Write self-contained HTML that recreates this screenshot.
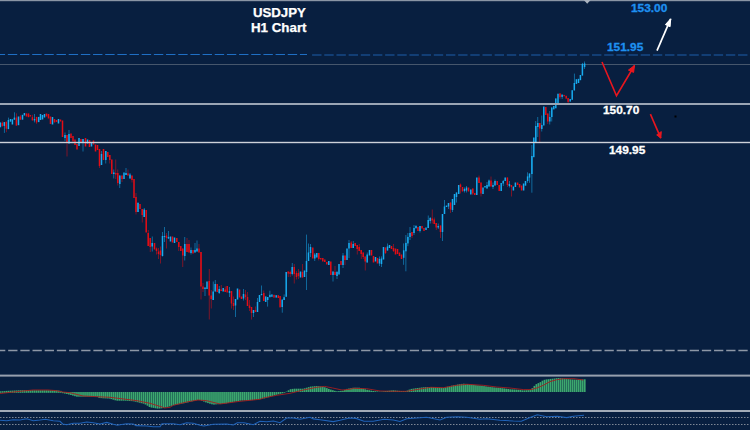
<!DOCTYPE html>
<html><head><meta charset="utf-8"><style>
html,body{margin:0;padding:0;}
body{width:750px;height:430px;overflow:hidden;background:#081f40;position:relative;font-family:"Liberation Sans",sans-serif;}
svg{position:absolute;left:0;top:0;}
.t{position:absolute;color:#fff;font-weight:bold;white-space:nowrap;line-height:1;}
</style></head><body>
<svg width="750" height="430" viewBox="0 0 750 430">
<rect x="0" y="0" width="750" height="1.2" fill="#8a95a5"/>
<path d="M583.8 0 L590.6 0 L587.2 3.8 Z" fill="#aab3bf"/>
<path d="M-4.32 54.5 H307" stroke="#1f6fc4" stroke-width="1" stroke-dasharray="9.4 2.77" fill="none"/>
<path d="M312.1 55 H750" stroke="#164a86" stroke-width="1.6" stroke-dasharray="9.4 2.77" fill="none"/>
<rect x="0" y="64" width="750" height="1" fill="#46566c"/>
<rect x="-0.35" y="122.4" width="1.5" height="4.9" fill="#18acf0"/>
<rect x="1.95" y="121.4" width="0.7" height="4.9" fill="#e60d14" opacity="0.75"/>
<rect x="1.55" y="122.8" width="1.5" height="3.5" fill="#e60d14"/>
<rect x="3.95" y="122.1" width="0.7" height="10.8" fill="#18acf0" opacity="0.75"/>
<rect x="3.55" y="122.1" width="1.5" height="3.8" fill="#18acf0"/>
<rect x="5.95" y="121.7" width="0.7" height="10.5" fill="#e60d14" opacity="0.75"/>
<rect x="5.55" y="121.7" width="1.5" height="7.0" fill="#e60d14"/>
<rect x="8.05" y="117.6" width="0.7" height="11.5" fill="#18acf0" opacity="0.75"/>
<rect x="7.65" y="120.0" width="1.5" height="9.1" fill="#18acf0"/>
<rect x="9.75" y="119.0" width="1.5" height="2.7" fill="#18acf0"/>
<rect x="11.65" y="119.3" width="1.5" height="5.2" fill="#18acf0"/>
<rect x="14.05" y="112.3" width="0.7" height="7.4" fill="#18acf0" opacity="0.75"/>
<rect x="13.65" y="117.6" width="1.5" height="2.1" fill="#18acf0"/>
<rect x="16.05" y="113.4" width="0.7" height="12.2" fill="#e60d14" opacity="0.75"/>
<rect x="15.65" y="117.6" width="1.5" height="8.0" fill="#e60d14"/>
<rect x="17.75" y="116.5" width="1.5" height="8.7" fill="#18acf0"/>
<rect x="20.05" y="115.1" width="0.7" height="4.6" fill="#e60d14" opacity="0.75"/>
<rect x="19.65" y="116.5" width="1.5" height="3.2" fill="#e60d14"/>
<rect x="21.75" y="114.8" width="1.5" height="4.9" fill="#18acf0"/>
<rect x="23.65" y="113.0" width="1.5" height="2.5" fill="#18acf0"/>
<rect x="25.75" y="113.4" width="1.5" height="3.1" fill="#e60d14"/>
<rect x="27.75" y="113.4" width="1.5" height="3.8" fill="#e60d14"/>
<rect x="29.65" y="115.1" width="1.5" height="1.4" fill="#e60d14"/>
<rect x="32.05" y="114.8" width="0.7" height="5.6" fill="#e60d14" opacity="0.75"/>
<rect x="31.65" y="117.2" width="1.5" height="3.2" fill="#e60d14"/>
<rect x="34.15" y="114.0" width="0.7" height="8.4" fill="#18acf0" opacity="0.75"/>
<rect x="33.75" y="119.0" width="1.5" height="1.4" fill="#18acf0"/>
<rect x="36.25" y="116.9" width="0.7" height="6.9" fill="#e60d14" opacity="0.75"/>
<rect x="35.85" y="116.9" width="1.5" height="5.5" fill="#e60d14"/>
<rect x="37.95" y="116.9" width="1.5" height="5.2" fill="#18acf0"/>
<rect x="39.75" y="114.0" width="1.5" height="6.0" fill="#18acf0"/>
<rect x="41.75" y="115.0" width="1.5" height="4.5" fill="#18acf0"/>
<rect x="43.75" y="114.0" width="1.5" height="3.5" fill="#18acf0"/>
<rect x="45.75" y="113.5" width="1.5" height="3.0" fill="#e60d14"/>
<rect x="47.75" y="114.0" width="1.5" height="4.5" fill="#e60d14"/>
<rect x="49.75" y="116.5" width="1.5" height="7.5" fill="#e60d14"/>
<rect x="51.75" y="117.0" width="1.5" height="7.5" fill="#18acf0"/>
<rect x="53.75" y="119.0" width="1.5" height="3.5" fill="#e60d14"/>
<rect x="55.75" y="120.0" width="1.5" height="2.0" fill="#e60d14"/>
<rect x="57.75" y="119.0" width="1.5" height="4.5" fill="#18acf0"/>
<rect x="59.75" y="119.5" width="1.5" height="2.0" fill="#e60d14"/>
<rect x="61.75" y="120.5" width="1.5" height="16.5" fill="#e60d14"/>
<rect x="64.65" y="132.5" width="0.7" height="8.5" fill="#18acf0" opacity="0.75"/>
<rect x="64.25" y="135.0" width="1.5" height="3.0" fill="#18acf0"/>
<rect x="66.65" y="135.0" width="0.7" height="21.5" fill="#e60d14" opacity="0.75"/>
<rect x="66.25" y="135.0" width="1.5" height="7.5" fill="#e60d14"/>
<rect x="68.65" y="130.0" width="0.7" height="13.5" fill="#18acf0" opacity="0.75"/>
<rect x="68.25" y="134.0" width="1.5" height="9.5" fill="#18acf0"/>
<rect x="70.25" y="133.5" width="1.5" height="4.5" fill="#e60d14"/>
<rect x="72.25" y="136.0" width="1.5" height="5.5" fill="#e60d14"/>
<rect x="74.25" y="139.5" width="1.5" height="5.5" fill="#e60d14"/>
<rect x="76.25" y="144.0" width="1.5" height="5.5" fill="#e60d14"/>
<rect x="78.25" y="138.0" width="1.5" height="8.0" fill="#18acf0"/>
<rect x="80.25" y="139.0" width="1.5" height="3.5" fill="#e60d14"/>
<rect x="82.65" y="139.0" width="0.7" height="12.5" fill="#18acf0" opacity="0.75"/>
<rect x="82.25" y="139.0" width="1.5" height="4.0" fill="#18acf0"/>
<rect x="84.75" y="138.0" width="1.5" height="8.5" fill="#e60d14"/>
<rect x="86.75" y="139.5" width="1.5" height="4.0" fill="#18acf0"/>
<rect x="88.75" y="140.0" width="1.5" height="7.0" fill="#e60d14"/>
<rect x="90.75" y="142.0" width="1.5" height="4.5" fill="#18acf0"/>
<rect x="92.75" y="140.5" width="1.5" height="4.0" fill="#e60d14"/>
<rect x="94.75" y="144.5" width="1.5" height="7.0" fill="#e60d14"/>
<rect x="96.75" y="145.0" width="1.5" height="5.0" fill="#e60d14"/>
<rect x="99.15" y="149.0" width="0.7" height="19.0" fill="#e60d14" opacity="0.75"/>
<rect x="98.75" y="149.0" width="1.5" height="17.0" fill="#e60d14"/>
<rect x="101.15" y="151.0" width="0.7" height="14.0" fill="#18acf0" opacity="0.75"/>
<rect x="100.75" y="154.0" width="1.5" height="11.0" fill="#18acf0"/>
<rect x="102.75" y="149.0" width="1.5" height="11.0" fill="#e60d14"/>
<rect x="105.45" y="151.0" width="0.7" height="12.5" fill="#18acf0" opacity="0.75"/>
<rect x="105.05" y="151.0" width="1.5" height="9.0" fill="#18acf0"/>
<rect x="107.05" y="152.0" width="1.5" height="5.0" fill="#e60d14"/>
<rect x="109.45" y="155.0" width="0.7" height="8.5" fill="#e60d14" opacity="0.75"/>
<rect x="109.05" y="155.0" width="1.5" height="5.0" fill="#e60d14"/>
<rect x="111.05" y="159.5" width="1.5" height="14.5" fill="#e60d14"/>
<rect x="113.45" y="169.5" width="0.7" height="9.0" fill="#18acf0" opacity="0.75"/>
<rect x="113.05" y="172.5" width="1.5" height="1.5" fill="#18acf0"/>
<rect x="115.45" y="159.5" width="0.7" height="19.5" fill="#e60d14" opacity="0.75"/>
<rect x="115.05" y="173.0" width="1.5" height="1.5" fill="#e60d14"/>
<rect x="117.45" y="169.5" width="0.7" height="16.0" fill="#e60d14" opacity="0.75"/>
<rect x="117.05" y="173.0" width="1.5" height="10.0" fill="#e60d14"/>
<rect x="119.45" y="175.5" width="0.7" height="12.5" fill="#18acf0" opacity="0.75"/>
<rect x="119.05" y="175.5" width="1.5" height="8.5" fill="#18acf0"/>
<rect x="121.65" y="175.5" width="0.7" height="6.5" fill="#e60d14" opacity="0.75"/>
<rect x="121.25" y="175.5" width="1.5" height="3.5" fill="#e60d14"/>
<rect x="123.25" y="172.5" width="1.5" height="6.5" fill="#18acf0"/>
<rect x="125.65" y="168.0" width="0.7" height="7.0" fill="#18acf0" opacity="0.75"/>
<rect x="125.25" y="173.0" width="1.5" height="2.0" fill="#18acf0"/>
<rect x="127.65" y="169.5" width="0.7" height="6.0" fill="#e60d14" opacity="0.75"/>
<rect x="127.25" y="173.5" width="1.5" height="2.0" fill="#e60d14"/>
<rect x="129.65" y="173.0" width="0.7" height="5.5" fill="#18acf0" opacity="0.75"/>
<rect x="129.25" y="174.5" width="1.5" height="4.0" fill="#18acf0"/>
<rect x="131.65" y="175.5" width="0.7" height="7.0" fill="#e60d14" opacity="0.75"/>
<rect x="131.25" y="175.5" width="1.5" height="4.5" fill="#e60d14"/>
<rect x="133.25" y="179.0" width="1.5" height="19.0" fill="#e60d14"/>
<rect x="135.65" y="193.0" width="0.7" height="21.5" fill="#e60d14" opacity="0.75"/>
<rect x="135.25" y="197.0" width="1.5" height="15.0" fill="#e60d14"/>
<rect x="137.65" y="202.0" width="0.7" height="10.0" fill="#18acf0" opacity="0.75"/>
<rect x="137.25" y="203.0" width="1.5" height="9.0" fill="#18acf0"/>
<rect x="139.25" y="204.0" width="1.5" height="5.0" fill="#e60d14"/>
<rect x="141.85" y="209.0" width="0.7" height="13.5" fill="#e60d14" opacity="0.75"/>
<rect x="141.45" y="209.0" width="1.5" height="6.0" fill="#e60d14"/>
<rect x="143.85" y="208.0" width="0.7" height="9.0" fill="#18acf0" opacity="0.75"/>
<rect x="143.45" y="209.5" width="1.5" height="7.5" fill="#18acf0"/>
<rect x="145.45" y="210.0" width="1.5" height="22.5" fill="#e60d14"/>
<rect x="147.85" y="230.0" width="0.7" height="16.0" fill="#e60d14" opacity="0.75"/>
<rect x="147.45" y="233.0" width="1.5" height="13.0" fill="#e60d14"/>
<rect x="149.85" y="238.0" width="0.7" height="14.0" fill="#e60d14" opacity="0.75"/>
<rect x="149.45" y="238.0" width="1.5" height="9.0" fill="#e60d14"/>
<rect x="151.85" y="236.5" width="0.7" height="15.0" fill="#18acf0" opacity="0.75"/>
<rect x="151.45" y="243.0" width="1.5" height="3.5" fill="#18acf0"/>
<rect x="153.75" y="243.0" width="1.5" height="6.5" fill="#e60d14"/>
<rect x="156.15" y="247.5" width="0.7" height="7.0" fill="#e60d14" opacity="0.75"/>
<rect x="155.75" y="248.5" width="1.5" height="2.5" fill="#e60d14"/>
<rect x="158.15" y="248.0" width="0.7" height="11.0" fill="#e60d14" opacity="0.75"/>
<rect x="157.75" y="251.5" width="1.5" height="2.5" fill="#e60d14"/>
<rect x="160.15" y="246.5" width="0.7" height="17.0" fill="#e60d14" opacity="0.75"/>
<rect x="159.75" y="250.5" width="1.5" height="4.5" fill="#e60d14"/>
<rect x="162.15" y="232.0" width="0.7" height="24.5" fill="#18acf0" opacity="0.75"/>
<rect x="161.75" y="236.0" width="1.5" height="20.0" fill="#18acf0"/>
<rect x="164.15" y="227.0" width="0.7" height="15.0" fill="#18acf0" opacity="0.75"/>
<rect x="163.75" y="236.0" width="1.5" height="1.0" fill="#18acf0"/>
<rect x="166.15" y="233.0" width="0.7" height="15.5" fill="#e60d14" opacity="0.75"/>
<rect x="165.75" y="235.5" width="1.5" height="2.5" fill="#e60d14"/>
<rect x="168.15" y="231.0" width="0.7" height="8.0" fill="#18acf0" opacity="0.75"/>
<rect x="167.75" y="237.0" width="1.5" height="1.5" fill="#18acf0"/>
<rect x="169.75" y="236.5" width="1.5" height="5.0" fill="#18acf0"/>
<rect x="171.75" y="236.5" width="1.5" height="6.0" fill="#e60d14"/>
<rect x="173.75" y="237.5" width="1.5" height="5.5" fill="#18acf0"/>
<rect x="176.05" y="238.0" width="1.5" height="4.0" fill="#e60d14"/>
<rect x="178.45" y="242.0" width="0.7" height="9.0" fill="#e60d14" opacity="0.75"/>
<rect x="178.05" y="242.0" width="1.5" height="5.0" fill="#e60d14"/>
<rect x="180.05" y="246.0" width="1.5" height="5.0" fill="#e60d14"/>
<rect x="182.45" y="248.5" width="0.7" height="18.5" fill="#e60d14" opacity="0.75"/>
<rect x="182.05" y="248.5" width="1.5" height="7.0" fill="#e60d14"/>
<rect x="184.45" y="237.0" width="0.7" height="23.5" fill="#18acf0" opacity="0.75"/>
<rect x="184.05" y="244.0" width="1.5" height="12.0" fill="#18acf0"/>
<rect x="186.65" y="238.0" width="0.7" height="14.0" fill="#e60d14" opacity="0.75"/>
<rect x="186.25" y="244.0" width="1.5" height="8.0" fill="#e60d14"/>
<rect x="188.65" y="240.0" width="0.7" height="12.5" fill="#e60d14" opacity="0.75"/>
<rect x="188.25" y="244.0" width="1.5" height="8.5" fill="#e60d14"/>
<rect x="190.65" y="247.5" width="0.7" height="7.0" fill="#18acf0" opacity="0.75"/>
<rect x="190.25" y="250.0" width="1.5" height="3.0" fill="#18acf0"/>
<rect x="192.25" y="250.0" width="1.5" height="3.5" fill="#e60d14"/>
<rect x="194.65" y="243.0" width="0.7" height="9.5" fill="#18acf0" opacity="0.75"/>
<rect x="194.25" y="250.0" width="1.5" height="2.5" fill="#18acf0"/>
<rect x="196.65" y="240.5" width="0.7" height="11.0" fill="#18acf0" opacity="0.75"/>
<rect x="196.25" y="248.5" width="1.5" height="3.0" fill="#18acf0"/>
<rect x="198.65" y="244.0" width="0.7" height="8.5" fill="#e60d14" opacity="0.75"/>
<rect x="198.25" y="248.5" width="1.5" height="4.0" fill="#e60d14"/>
<rect x="200.65" y="252.0" width="0.7" height="47.5" fill="#e60d14" opacity="0.75"/>
<rect x="200.25" y="252.0" width="1.5" height="34.5" fill="#e60d14"/>
<rect x="202.65" y="283.0" width="0.7" height="9.0" fill="#e60d14" opacity="0.75"/>
<rect x="202.25" y="286.5" width="1.5" height="2.5" fill="#e60d14"/>
<rect x="204.65" y="287.5" width="0.7" height="8.5" fill="#18acf0" opacity="0.75"/>
<rect x="204.25" y="287.5" width="1.5" height="1.5" fill="#18acf0"/>
<rect x="206.25" y="281.5" width="1.5" height="7.5" fill="#18acf0"/>
<rect x="208.85" y="269.0" width="0.7" height="50.5" fill="#e60d14" opacity="0.75"/>
<rect x="208.45" y="281.0" width="1.5" height="14.5" fill="#e60d14"/>
<rect x="210.85" y="290.0" width="0.7" height="18.5" fill="#e60d14" opacity="0.75"/>
<rect x="210.45" y="295.5" width="1.5" height="3.5" fill="#e60d14"/>
<rect x="212.85" y="281.5" width="0.7" height="18.5" fill="#18acf0" opacity="0.75"/>
<rect x="212.45" y="291.5" width="1.5" height="8.5" fill="#18acf0"/>
<rect x="214.85" y="280.0" width="0.7" height="11.5" fill="#18acf0" opacity="0.75"/>
<rect x="214.45" y="284.0" width="1.5" height="7.5" fill="#18acf0"/>
<rect x="216.45" y="284.0" width="1.5" height="8.0" fill="#e60d14"/>
<rect x="218.85" y="286.0" width="0.7" height="8.0" fill="#18acf0" opacity="0.75"/>
<rect x="218.45" y="289.0" width="1.5" height="4.0" fill="#18acf0"/>
<rect x="220.85" y="285.0" width="0.7" height="6.0" fill="#e60d14" opacity="0.75"/>
<rect x="220.45" y="289.5" width="1.5" height="1.5" fill="#e60d14"/>
<rect x="222.45" y="288.0" width="1.5" height="3.5" fill="#18acf0"/>
<rect x="224.85" y="286.5" width="0.7" height="5.5" fill="#e60d14" opacity="0.75"/>
<rect x="224.45" y="289.5" width="1.5" height="2.5" fill="#e60d14"/>
<rect x="226.45" y="286.0" width="1.5" height="6.5" fill="#e60d14"/>
<rect x="229.15" y="287.0" width="0.7" height="10.0" fill="#18acf0" opacity="0.75"/>
<rect x="228.75" y="291.0" width="1.5" height="2.0" fill="#18acf0"/>
<rect x="231.15" y="291.0" width="0.7" height="17.5" fill="#e60d14" opacity="0.75"/>
<rect x="230.75" y="291.0" width="1.5" height="12.5" fill="#e60d14"/>
<rect x="233.15" y="296.5" width="0.7" height="13.5" fill="#e60d14" opacity="0.75"/>
<rect x="232.75" y="303.0" width="1.5" height="3.0" fill="#e60d14"/>
<rect x="235.15" y="299.0" width="0.7" height="18.0" fill="#18acf0" opacity="0.75"/>
<rect x="234.75" y="299.0" width="1.5" height="6.5" fill="#18acf0"/>
<rect x="236.75" y="288.5" width="1.5" height="11.0" fill="#18acf0"/>
<rect x="238.75" y="289.5" width="1.5" height="8.0" fill="#e60d14"/>
<rect x="240.75" y="296.5" width="1.5" height="2.5" fill="#e60d14"/>
<rect x="243.15" y="289.0" width="0.7" height="11.5" fill="#18acf0" opacity="0.75"/>
<rect x="242.75" y="294.0" width="1.5" height="4.5" fill="#18acf0"/>
<rect x="245.15" y="290.0" width="0.7" height="10.0" fill="#e60d14" opacity="0.75"/>
<rect x="244.75" y="294.5" width="1.5" height="2.5" fill="#e60d14"/>
<rect x="247.15" y="292.0" width="0.7" height="14.0" fill="#e60d14" opacity="0.75"/>
<rect x="246.75" y="297.0" width="1.5" height="9.0" fill="#e60d14"/>
<rect x="249.15" y="300.0" width="0.7" height="11.0" fill="#e60d14" opacity="0.75"/>
<rect x="248.75" y="305.5" width="1.5" height="2.5" fill="#e60d14"/>
<rect x="251.15" y="307.0" width="0.7" height="12.5" fill="#e60d14" opacity="0.75"/>
<rect x="250.75" y="307.0" width="1.5" height="6.0" fill="#e60d14"/>
<rect x="253.15" y="310.0" width="0.7" height="7.0" fill="#18acf0" opacity="0.75"/>
<rect x="252.75" y="310.0" width="1.5" height="3.0" fill="#18acf0"/>
<rect x="255.15" y="306.5" width="0.7" height="5.5" fill="#e60d14" opacity="0.75"/>
<rect x="254.75" y="310.0" width="1.5" height="2.0" fill="#e60d14"/>
<rect x="257.15" y="298.0" width="0.7" height="14.0" fill="#18acf0" opacity="0.75"/>
<rect x="256.75" y="302.0" width="1.5" height="10.0" fill="#18acf0"/>
<rect x="258.75" y="295.0" width="1.5" height="7.0" fill="#18acf0"/>
<rect x="261.15" y="285.5" width="0.7" height="10.0" fill="#18acf0" opacity="0.75"/>
<rect x="260.75" y="294.0" width="1.5" height="1.0" fill="#18acf0"/>
<rect x="263.45" y="290.5" width="0.7" height="10.5" fill="#e60d14" opacity="0.75"/>
<rect x="263.05" y="293.0" width="1.5" height="8.0" fill="#e60d14"/>
<rect x="264.95" y="296.4" width="1.5" height="5.6" fill="#18acf0"/>
<rect x="267.35" y="297.0" width="0.7" height="9.6" fill="#18acf0" opacity="0.75"/>
<rect x="266.95" y="297.0" width="1.5" height="3.0" fill="#18acf0"/>
<rect x="269.55" y="290.7" width="0.7" height="6.5" fill="#18acf0" opacity="0.75"/>
<rect x="269.15" y="294.8" width="1.5" height="2.4" fill="#18acf0"/>
<rect x="271.15" y="294.4" width="1.5" height="2.4" fill="#18acf0"/>
<rect x="273.25" y="294.8" width="1.5" height="2.8" fill="#e60d14"/>
<rect x="275.45" y="295.2" width="1.5" height="2.4" fill="#18acf0"/>
<rect x="277.55" y="295.2" width="1.5" height="2.8" fill="#e60d14"/>
<rect x="279.35" y="296.0" width="1.5" height="11.4" fill="#e60d14"/>
<rect x="281.85" y="299.6" width="0.7" height="13.1" fill="#18acf0" opacity="0.75"/>
<rect x="281.45" y="299.6" width="1.5" height="7.4" fill="#18acf0"/>
<rect x="283.75" y="294.4" width="0.7" height="5.6" fill="#18acf0" opacity="0.75"/>
<rect x="283.35" y="297.2" width="1.5" height="2.8" fill="#18acf0"/>
<rect x="285.45" y="272.0" width="1.5" height="24.8" fill="#18acf0"/>
<rect x="287.85" y="271.5" width="0.7" height="5.5" fill="#e60d14" opacity="0.75"/>
<rect x="287.45" y="271.5" width="1.5" height="2.0" fill="#e60d14"/>
<rect x="289.85" y="270.5" width="0.7" height="6.5" fill="#e60d14" opacity="0.75"/>
<rect x="289.45" y="272.0" width="1.5" height="2.0" fill="#e60d14"/>
<rect x="291.85" y="263.0" width="0.7" height="12.5" fill="#18acf0" opacity="0.75"/>
<rect x="291.45" y="267.0" width="1.5" height="7.0" fill="#18acf0"/>
<rect x="293.85" y="264.0" width="0.7" height="19.5" fill="#e60d14" opacity="0.75"/>
<rect x="293.45" y="267.0" width="1.5" height="7.0" fill="#e60d14"/>
<rect x="296.15" y="271.0" width="0.7" height="8.5" fill="#e60d14" opacity="0.75"/>
<rect x="295.75" y="273.0" width="1.5" height="4.0" fill="#e60d14"/>
<rect x="298.15" y="269.0" width="0.7" height="10.0" fill="#e60d14" opacity="0.75"/>
<rect x="297.75" y="273.0" width="1.5" height="3.0" fill="#e60d14"/>
<rect x="299.75" y="271.5" width="1.5" height="6.0" fill="#18acf0"/>
<rect x="302.15" y="264.0" width="0.7" height="13.5" fill="#e60d14" opacity="0.75"/>
<rect x="301.75" y="272.0" width="1.5" height="5.5" fill="#e60d14"/>
<rect x="303.75" y="270.5" width="1.5" height="6.5" fill="#18acf0"/>
<rect x="306.15" y="234.6" width="0.7" height="55.4" fill="#18acf0" opacity="0.75"/>
<rect x="305.75" y="261.0" width="1.5" height="11.0" fill="#18acf0"/>
<rect x="308.15" y="243.5" width="0.7" height="17.5" fill="#18acf0" opacity="0.75"/>
<rect x="307.75" y="252.5" width="1.5" height="8.5" fill="#18acf0"/>
<rect x="310.15" y="244.0" width="0.7" height="13.0" fill="#18acf0" opacity="0.75"/>
<rect x="309.75" y="247.0" width="1.5" height="6.0" fill="#18acf0"/>
<rect x="312.05" y="247.5" width="1.5" height="11.0" fill="#e60d14"/>
<rect x="314.45" y="253.0" width="0.7" height="8.0" fill="#18acf0" opacity="0.75"/>
<rect x="314.05" y="254.5" width="1.5" height="4.0" fill="#18acf0"/>
<rect x="316.05" y="253.0" width="1.5" height="4.5" fill="#18acf0"/>
<rect x="318.45" y="253.0" width="0.7" height="7.5" fill="#e60d14" opacity="0.75"/>
<rect x="318.05" y="253.0" width="1.5" height="6.0" fill="#e60d14"/>
<rect x="320.05" y="258.0" width="1.5" height="1.5" fill="#e60d14"/>
<rect x="322.05" y="258.0" width="1.5" height="3.5" fill="#e60d14"/>
<rect x="324.05" y="259.5" width="1.5" height="2.5" fill="#e60d14"/>
<rect x="326.05" y="262.0" width="1.5" height="2.5" fill="#e60d14"/>
<rect x="328.05" y="261.0" width="1.5" height="4.0" fill="#18acf0"/>
<rect x="330.05" y="261.5" width="1.5" height="13.5" fill="#e60d14"/>
<rect x="332.65" y="271.5" width="0.7" height="10.0" fill="#18acf0" opacity="0.75"/>
<rect x="332.25" y="271.5" width="1.5" height="3.5" fill="#18acf0"/>
<rect x="334.65" y="266.0" width="0.7" height="9.0" fill="#e60d14" opacity="0.75"/>
<rect x="334.25" y="272.0" width="1.5" height="3.0" fill="#e60d14"/>
<rect x="336.65" y="271.0" width="0.7" height="8.0" fill="#18acf0" opacity="0.75"/>
<rect x="336.25" y="272.0" width="1.5" height="4.0" fill="#18acf0"/>
<rect x="338.25" y="264.0" width="1.5" height="10.5" fill="#18acf0"/>
<rect x="340.25" y="261.0" width="1.5" height="4.0" fill="#e60d14"/>
<rect x="342.65" y="253.0" width="0.7" height="15.0" fill="#18acf0" opacity="0.75"/>
<rect x="342.25" y="255.5" width="1.5" height="9.5" fill="#18acf0"/>
<rect x="344.65" y="255.5" width="0.7" height="9.5" fill="#e60d14" opacity="0.75"/>
<rect x="344.25" y="255.5" width="1.5" height="4.5" fill="#e60d14"/>
<rect x="346.25" y="248.5" width="1.5" height="11.5" fill="#18acf0"/>
<rect x="348.65" y="240.0" width="0.7" height="18.0" fill="#18acf0" opacity="0.75"/>
<rect x="348.25" y="243.0" width="1.5" height="5.5" fill="#18acf0"/>
<rect x="350.85" y="241.0" width="0.7" height="7.0" fill="#e60d14" opacity="0.75"/>
<rect x="350.45" y="242.5" width="1.5" height="5.5" fill="#e60d14"/>
<rect x="352.85" y="241.0" width="0.7" height="7.0" fill="#18acf0" opacity="0.75"/>
<rect x="352.45" y="244.0" width="1.5" height="4.0" fill="#18acf0"/>
<rect x="354.45" y="243.0" width="1.5" height="3.0" fill="#e60d14"/>
<rect x="356.85" y="245.0" width="0.7" height="9.5" fill="#e60d14" opacity="0.75"/>
<rect x="356.45" y="245.0" width="1.5" height="4.0" fill="#e60d14"/>
<rect x="358.85" y="244.0" width="0.7" height="7.0" fill="#e60d14" opacity="0.75"/>
<rect x="358.45" y="247.0" width="1.5" height="4.0" fill="#e60d14"/>
<rect x="360.85" y="250.0" width="0.7" height="9.0" fill="#e60d14" opacity="0.75"/>
<rect x="360.45" y="250.0" width="1.5" height="4.0" fill="#e60d14"/>
<rect x="362.85" y="252.5" width="0.7" height="6.5" fill="#e60d14" opacity="0.75"/>
<rect x="362.45" y="252.5" width="1.5" height="4.5" fill="#e60d14"/>
<rect x="364.85" y="256.5" width="0.7" height="14.0" fill="#e60d14" opacity="0.75"/>
<rect x="364.45" y="256.5" width="1.5" height="5.0" fill="#e60d14"/>
<rect x="366.85" y="252.5" width="0.7" height="10.0" fill="#18acf0" opacity="0.75"/>
<rect x="366.45" y="254.5" width="1.5" height="8.0" fill="#18acf0"/>
<rect x="368.75" y="250.0" width="1.5" height="5.5" fill="#18acf0"/>
<rect x="370.75" y="250.0" width="1.5" height="5.5" fill="#e60d14"/>
<rect x="372.75" y="256.0" width="1.5" height="6.5" fill="#e60d14"/>
<rect x="374.75" y="257.0" width="1.5" height="4.5" fill="#18acf0"/>
<rect x="376.75" y="258.0" width="1.5" height="5.5" fill="#e60d14"/>
<rect x="379.15" y="256.5" width="0.7" height="9.5" fill="#18acf0" opacity="0.75"/>
<rect x="378.75" y="259.0" width="1.5" height="4.5" fill="#18acf0"/>
<rect x="381.15" y="256.4" width="0.7" height="10.6" fill="#18acf0" opacity="0.75"/>
<rect x="380.75" y="258.5" width="1.5" height="5.5" fill="#18acf0"/>
<rect x="382.75" y="247.0" width="1.5" height="12.5" fill="#18acf0"/>
<rect x="385.15" y="247.5" width="0.7" height="6.5" fill="#e60d14" opacity="0.75"/>
<rect x="384.75" y="247.5" width="1.5" height="5.5" fill="#e60d14"/>
<rect x="387.15" y="243.5" width="0.7" height="7.0" fill="#18acf0" opacity="0.75"/>
<rect x="386.75" y="246.5" width="1.5" height="4.0" fill="#18acf0"/>
<rect x="388.75" y="245.0" width="1.5" height="3.0" fill="#18acf0"/>
<rect x="390.75" y="246.0" width="1.5" height="3.0" fill="#e60d14"/>
<rect x="393.15" y="244.0" width="0.7" height="8.0" fill="#e60d14" opacity="0.75"/>
<rect x="392.75" y="248.0" width="1.5" height="3.0" fill="#e60d14"/>
<rect x="394.75" y="248.5" width="1.5" height="6.0" fill="#e60d14"/>
<rect x="396.75" y="249.0" width="1.5" height="5.0" fill="#e60d14"/>
<rect x="398.75" y="252.5" width="1.5" height="3.5" fill="#e60d14"/>
<rect x="400.75" y="254.5" width="1.5" height="4.5" fill="#e60d14"/>
<rect x="403.35" y="243.4" width="0.7" height="21.4" fill="#18acf0" opacity="0.75"/>
<rect x="402.95" y="250.3" width="1.5" height="7.5" fill="#18acf0"/>
<rect x="405.55" y="235.0" width="0.7" height="36.3" fill="#18acf0" opacity="0.75"/>
<rect x="405.15" y="242.9" width="1.5" height="8.4" fill="#18acf0"/>
<rect x="407.55" y="233.0" width="0.7" height="13.2" fill="#18acf0" opacity="0.75"/>
<rect x="407.15" y="236.9" width="1.5" height="6.5" fill="#18acf0"/>
<rect x="409.65" y="227.0" width="0.7" height="13.0" fill="#18acf0" opacity="0.75"/>
<rect x="409.25" y="233.0" width="1.5" height="4.0" fill="#18acf0"/>
<rect x="411.65" y="232.0" width="0.7" height="6.0" fill="#e60d14" opacity="0.75"/>
<rect x="411.25" y="232.0" width="1.5" height="4.0" fill="#e60d14"/>
<rect x="413.65" y="225.0" width="0.7" height="10.0" fill="#18acf0" opacity="0.75"/>
<rect x="413.25" y="228.0" width="1.5" height="5.0" fill="#18acf0"/>
<rect x="415.65" y="225.0" width="0.7" height="4.0" fill="#18acf0" opacity="0.75"/>
<rect x="415.25" y="226.0" width="1.5" height="2.0" fill="#18acf0"/>
<rect x="417.25" y="227.0" width="1.5" height="4.0" fill="#e60d14"/>
<rect x="419.65" y="226.0" width="0.7" height="6.5" fill="#18acf0" opacity="0.75"/>
<rect x="419.25" y="226.0" width="1.5" height="5.0" fill="#18acf0"/>
<rect x="421.25" y="226.0" width="1.5" height="2.5" fill="#e60d14"/>
<rect x="423.25" y="228.0" width="1.5" height="3.0" fill="#e60d14"/>
<rect x="425.25" y="227.5" width="1.5" height="2.5" fill="#18acf0"/>
<rect x="427.85" y="215.5" width="0.7" height="12.5" fill="#18acf0" opacity="0.75"/>
<rect x="427.45" y="220.0" width="1.5" height="8.0" fill="#18acf0"/>
<rect x="429.85" y="217.0" width="0.7" height="6.5" fill="#18acf0" opacity="0.75"/>
<rect x="429.45" y="218.0" width="1.5" height="3.0" fill="#18acf0"/>
<rect x="431.85" y="209.5" width="0.7" height="14.0" fill="#e60d14" opacity="0.75"/>
<rect x="431.45" y="218.5" width="1.5" height="2.0" fill="#e60d14"/>
<rect x="433.85" y="217.5" width="0.7" height="6.5" fill="#e60d14" opacity="0.75"/>
<rect x="433.45" y="219.5" width="1.5" height="4.5" fill="#e60d14"/>
<rect x="435.85" y="223.0" width="0.7" height="7.0" fill="#e60d14" opacity="0.75"/>
<rect x="435.45" y="223.0" width="1.5" height="4.5" fill="#e60d14"/>
<rect x="437.85" y="223.5" width="0.7" height="5.5" fill="#18acf0" opacity="0.75"/>
<rect x="437.45" y="226.0" width="1.5" height="1.5" fill="#18acf0"/>
<rect x="440.15" y="225.5" width="0.7" height="12.5" fill="#e60d14" opacity="0.75"/>
<rect x="439.75" y="225.5" width="1.5" height="6.5" fill="#e60d14"/>
<rect x="442.15" y="214.0" width="0.7" height="27.0" fill="#18acf0" opacity="0.75"/>
<rect x="441.75" y="214.0" width="1.5" height="18.0" fill="#18acf0"/>
<rect x="444.15" y="200.0" width="0.7" height="14.0" fill="#18acf0" opacity="0.75"/>
<rect x="443.75" y="206.5" width="1.5" height="7.5" fill="#18acf0"/>
<rect x="445.75" y="205.5" width="1.5" height="1.5" fill="#18acf0"/>
<rect x="448.15" y="203.0" width="0.7" height="6.0" fill="#18acf0" opacity="0.75"/>
<rect x="447.75" y="203.0" width="1.5" height="3.5" fill="#18acf0"/>
<rect x="450.15" y="202.5" width="0.7" height="10.5" fill="#e60d14" opacity="0.75"/>
<rect x="449.75" y="202.5" width="1.5" height="7.0" fill="#e60d14"/>
<rect x="452.15" y="199.0" width="0.7" height="13.0" fill="#18acf0" opacity="0.75"/>
<rect x="451.75" y="199.0" width="1.5" height="11.0" fill="#18acf0"/>
<rect x="453.75" y="194.0" width="1.5" height="11.0" fill="#18acf0"/>
<rect x="456.15" y="192.5" width="0.7" height="10.0" fill="#18acf0" opacity="0.75"/>
<rect x="455.75" y="192.5" width="1.5" height="4.5" fill="#18acf0"/>
<rect x="457.95" y="185.0" width="1.5" height="9.0" fill="#18acf0"/>
<rect x="460.15" y="183.5" width="0.7" height="10.0" fill="#e60d14" opacity="0.75"/>
<rect x="459.75" y="184.5" width="1.5" height="2.5" fill="#e60d14"/>
<rect x="461.75" y="187.0" width="1.5" height="4.5" fill="#e60d14"/>
<rect x="464.15" y="187.5" width="0.7" height="5.0" fill="#18acf0" opacity="0.75"/>
<rect x="463.75" y="189.0" width="1.5" height="2.0" fill="#18acf0"/>
<rect x="466.15" y="186.0" width="0.7" height="6.5" fill="#18acf0" opacity="0.75"/>
<rect x="465.75" y="187.5" width="1.5" height="3.0" fill="#18acf0"/>
<rect x="467.75" y="187.5" width="1.5" height="4.0" fill="#e60d14"/>
<rect x="470.05" y="189.5" width="1.5" height="5.0" fill="#18acf0"/>
<rect x="472.45" y="188.5" width="0.7" height="6.5" fill="#e60d14" opacity="0.75"/>
<rect x="472.05" y="188.5" width="1.5" height="5.0" fill="#e60d14"/>
<rect x="474.05" y="193.0" width="1.5" height="2.0" fill="#e60d14"/>
<rect x="476.05" y="177.5" width="1.5" height="17.5" fill="#18acf0"/>
<rect x="478.65" y="175.5" width="0.7" height="7.5" fill="#e60d14" opacity="0.75"/>
<rect x="478.25" y="177.5" width="1.5" height="5.5" fill="#e60d14"/>
<rect x="480.65" y="182.5" width="0.7" height="14.0" fill="#e60d14" opacity="0.75"/>
<rect x="480.25" y="182.5" width="1.5" height="11.0" fill="#e60d14"/>
<rect x="482.25" y="187.5" width="1.5" height="6.5" fill="#18acf0"/>
<rect x="484.25" y="186.0" width="1.5" height="1.5" fill="#18acf0"/>
<rect x="486.65" y="182.0" width="0.7" height="6.5" fill="#18acf0" opacity="0.75"/>
<rect x="486.25" y="185.0" width="1.5" height="3.5" fill="#18acf0"/>
<rect x="488.65" y="179.5" width="0.7" height="7.0" fill="#18acf0" opacity="0.75"/>
<rect x="488.25" y="180.5" width="1.5" height="6.0" fill="#18acf0"/>
<rect x="490.65" y="176.5" width="0.7" height="10.0" fill="#e60d14" opacity="0.75"/>
<rect x="490.25" y="180.5" width="1.5" height="6.0" fill="#e60d14"/>
<rect x="492.65" y="182.5" width="0.7" height="6.5" fill="#18acf0" opacity="0.75"/>
<rect x="492.25" y="185.0" width="1.5" height="2.0" fill="#18acf0"/>
<rect x="494.65" y="179.5" width="0.7" height="6.0" fill="#18acf0" opacity="0.75"/>
<rect x="494.25" y="181.0" width="1.5" height="4.5" fill="#18acf0"/>
<rect x="496.45" y="181.0" width="1.5" height="4.0" fill="#e60d14"/>
<rect x="498.45" y="185.0" width="1.5" height="6.0" fill="#e60d14"/>
<rect x="500.45" y="183.0" width="1.5" height="8.0" fill="#18acf0"/>
<rect x="502.85" y="180.0" width="0.7" height="6.0" fill="#18acf0" opacity="0.75"/>
<rect x="502.45" y="181.0" width="1.5" height="2.5" fill="#18acf0"/>
<rect x="504.45" y="177.5" width="1.5" height="3.5" fill="#18acf0"/>
<rect x="507.05" y="177.5" width="0.7" height="9.5" fill="#e60d14" opacity="0.75"/>
<rect x="506.65" y="177.5" width="1.5" height="7.5" fill="#e60d14"/>
<rect x="509.05" y="181.0" width="0.7" height="6.5" fill="#18acf0" opacity="0.75"/>
<rect x="508.65" y="184.0" width="1.5" height="2.0" fill="#18acf0"/>
<rect x="511.05" y="185.0" width="0.7" height="11.5" fill="#e60d14" opacity="0.75"/>
<rect x="510.65" y="185.0" width="1.5" height="2.0" fill="#e60d14"/>
<rect x="512.65" y="186.5" width="1.5" height="4.0" fill="#18acf0"/>
<rect x="514.65" y="182.5" width="1.5" height="4.5" fill="#18acf0"/>
<rect x="516.85" y="182.5" width="1.5" height="2.5" fill="#e60d14"/>
<rect x="518.85" y="184.0" width="1.5" height="3.5" fill="#e60d14"/>
<rect x="520.85" y="185.5" width="1.5" height="5.0" fill="#e60d14"/>
<rect x="522.85" y="183.5" width="1.5" height="7.0" fill="#18acf0"/>
<rect x="524.75" y="181.0" width="1.5" height="4.7" fill="#18acf0"/>
<rect x="527.25" y="172.3" width="0.7" height="10.5" fill="#18acf0" opacity="0.75"/>
<rect x="526.85" y="176.4" width="1.5" height="4.6" fill="#18acf0"/>
<rect x="529.15" y="173.5" width="0.7" height="9.3" fill="#18acf0" opacity="0.75"/>
<rect x="528.75" y="173.5" width="1.5" height="4.1" fill="#18acf0"/>
<rect x="531.55" y="145.0" width="0.7" height="47.7" fill="#18acf0" opacity="0.75"/>
<rect x="531.15" y="156.0" width="1.5" height="18.0" fill="#18acf0"/>
<rect x="533.05" y="137.5" width="1.5" height="19.7" fill="#18acf0"/>
<rect x="535.45" y="121.0" width="0.7" height="22.0" fill="#18acf0" opacity="0.75"/>
<rect x="535.05" y="126.0" width="1.5" height="17.0" fill="#18acf0"/>
<rect x="537.45" y="117.0" width="0.7" height="20.0" fill="#18acf0" opacity="0.75"/>
<rect x="537.05" y="123.0" width="1.5" height="4.0" fill="#18acf0"/>
<rect x="539.45" y="123.0" width="0.7" height="19.0" fill="#e60d14" opacity="0.75"/>
<rect x="539.05" y="123.0" width="1.5" height="5.5" fill="#e60d14"/>
<rect x="541.45" y="115.5" width="0.7" height="16.0" fill="#18acf0" opacity="0.75"/>
<rect x="541.05" y="125.0" width="1.5" height="4.0" fill="#18acf0"/>
<rect x="543.05" y="106.5" width="1.5" height="19.0" fill="#18acf0"/>
<rect x="545.05" y="107.0" width="1.5" height="8.0" fill="#e60d14"/>
<rect x="547.45" y="113.5" width="0.7" height="10.5" fill="#e60d14" opacity="0.75"/>
<rect x="547.05" y="113.5" width="1.5" height="8.0" fill="#e60d14"/>
<rect x="549.45" y="111.0" width="0.7" height="13.5" fill="#18acf0" opacity="0.75"/>
<rect x="549.05" y="117.0" width="1.5" height="4.5" fill="#18acf0"/>
<rect x="551.45" y="107.5" width="0.7" height="14.0" fill="#18acf0" opacity="0.75"/>
<rect x="551.05" y="107.5" width="1.5" height="9.5" fill="#18acf0"/>
<rect x="553.05" y="106.0" width="1.5" height="3.4" fill="#18acf0"/>
<rect x="555.05" y="98.4" width="1.5" height="9.9" fill="#18acf0"/>
<rect x="557.25" y="93.7" width="1.5" height="11.1" fill="#18acf0"/>
<rect x="559.65" y="93.4" width="0.7" height="5.6" fill="#e60d14" opacity="0.75"/>
<rect x="559.25" y="93.4" width="1.5" height="3.8" fill="#e60d14"/>
<rect x="561.75" y="94.6" width="0.7" height="4.4" fill="#18acf0" opacity="0.75"/>
<rect x="561.35" y="94.6" width="1.5" height="2.3" fill="#18acf0"/>
<rect x="563.35" y="94.9" width="1.5" height="1.4" fill="#e60d14"/>
<rect x="565.45" y="95.8" width="1.5" height="2.9" fill="#e60d14"/>
<rect x="567.75" y="98.1" width="0.7" height="5.5" fill="#e60d14" opacity="0.75"/>
<rect x="567.35" y="98.1" width="1.5" height="3.8" fill="#e60d14"/>
<rect x="569.45" y="99.0" width="1.5" height="2.6" fill="#18acf0"/>
<rect x="571.45" y="90.2" width="1.5" height="9.6" fill="#18acf0"/>
<rect x="573.95" y="73.6" width="0.7" height="16.8" fill="#18acf0" opacity="0.75"/>
<rect x="573.55" y="83.0" width="1.5" height="7.4" fill="#18acf0"/>
<rect x="575.65" y="79.2" width="1.5" height="4.7" fill="#18acf0"/>
<rect x="577.75" y="78.8" width="1.5" height="4.2" fill="#18acf0"/>
<rect x="579.65" y="75.0" width="1.5" height="5.2" fill="#18acf0"/>
<rect x="582.05" y="62.9" width="0.7" height="12.6" fill="#18acf0" opacity="0.75"/>
<rect x="581.65" y="63.9" width="1.5" height="11.6" fill="#18acf0"/>
<rect x="584.25" y="61.5" width="0.7" height="7.5" fill="#18acf0" opacity="0.75"/>
<rect x="583.85" y="63.4" width="1.5" height="3.7" fill="#18acf0"/>
<rect x="0" y="103" width="750" height="2" fill="#9aa5b4"/>
<rect x="0" y="141.8" width="750" height="1.4" fill="#cdd1d9"/>
<path d="M-4 350.5 H750" stroke="#8d97a6" stroke-width="1.7" stroke-dasharray="9.3 2.87" fill="none"/>
<rect x="0" y="374.6" width="750" height="2" fill="#97a0ae"/>
<g fill="#3ca86e">
<rect x="-0.45" y="391.3" width="1.7" height="1.5"/>
<rect x="1.56" y="391.2" width="1.7" height="1.6"/>
<rect x="3.58" y="391.1" width="1.7" height="1.7"/>
<rect x="5.60" y="390.9" width="1.7" height="1.9"/>
<rect x="7.61" y="390.8" width="1.7" height="2.0"/>
<rect x="9.63" y="390.7" width="1.7" height="2.1"/>
<rect x="11.64" y="390.6" width="1.7" height="2.2"/>
<rect x="13.66" y="390.5" width="1.7" height="2.3"/>
<rect x="15.67" y="390.4" width="1.7" height="2.4"/>
<rect x="17.69" y="390.3" width="1.7" height="2.5"/>
<rect x="19.70" y="390.2" width="1.7" height="2.6"/>
<rect x="21.72" y="390.2" width="1.7" height="2.6"/>
<rect x="23.73" y="390.2" width="1.7" height="2.6"/>
<rect x="25.75" y="390.2" width="1.7" height="2.6"/>
<rect x="27.76" y="390.2" width="1.7" height="2.6"/>
<rect x="29.78" y="390.3" width="1.7" height="2.5"/>
<rect x="31.79" y="390.3" width="1.7" height="2.5"/>
<rect x="33.81" y="390.3" width="1.7" height="2.5"/>
<rect x="35.82" y="390.3" width="1.7" height="2.5"/>
<rect x="37.84" y="390.3" width="1.7" height="2.5"/>
<rect x="39.85" y="390.3" width="1.7" height="2.5"/>
<rect x="41.87" y="390.3" width="1.7" height="2.5"/>
<rect x="43.88" y="390.3" width="1.7" height="2.5"/>
<rect x="45.90" y="390.3" width="1.7" height="2.5"/>
<rect x="47.91" y="390.4" width="1.7" height="2.4"/>
<rect x="49.93" y="390.4" width="1.7" height="2.4"/>
<rect x="51.94" y="390.4" width="1.7" height="2.4"/>
<rect x="53.96" y="390.4" width="1.7" height="2.4"/>
<rect x="55.97" y="390.4" width="1.7" height="2.4"/>
<rect x="57.99" y="390.6" width="1.7" height="2.2"/>
<rect x="60.00" y="390.9" width="1.7" height="1.9"/>
<rect x="62.02" y="392.0" width="1.7" height="1.2"/>
<rect x="64.03" y="392.0" width="1.7" height="1.6"/>
<rect x="66.05" y="392.0" width="1.7" height="2.0"/>
<rect x="68.06" y="392.0" width="1.7" height="2.5"/>
<rect x="70.08" y="392.0" width="1.7" height="3.0"/>
<rect x="72.09" y="392.0" width="1.7" height="3.6"/>
<rect x="74.11" y="392.0" width="1.7" height="4.2"/>
<rect x="76.12" y="392.0" width="1.7" height="4.7"/>
<rect x="78.14" y="392.0" width="1.7" height="4.7"/>
<rect x="80.15" y="392.0" width="1.7" height="4.7"/>
<rect x="82.17" y="392.0" width="1.7" height="4.7"/>
<rect x="84.18" y="392.0" width="1.7" height="4.7"/>
<rect x="86.20" y="392.0" width="1.7" height="4.7"/>
<rect x="88.21" y="392.0" width="1.7" height="4.7"/>
<rect x="90.23" y="392.0" width="1.7" height="4.7"/>
<rect x="92.24" y="392.0" width="1.7" height="4.7"/>
<rect x="94.26" y="392.0" width="1.7" height="4.7"/>
<rect x="96.27" y="392.0" width="1.7" height="4.9"/>
<rect x="98.29" y="392.0" width="1.7" height="5.9"/>
<rect x="100.30" y="392.0" width="1.7" height="6.1"/>
<rect x="102.32" y="392.0" width="1.7" height="6.3"/>
<rect x="104.33" y="392.0" width="1.7" height="6.4"/>
<rect x="106.35" y="392.0" width="1.7" height="6.5"/>
<rect x="108.36" y="392.0" width="1.7" height="6.6"/>
<rect x="110.38" y="392.0" width="1.7" height="7.1"/>
<rect x="112.39" y="392.0" width="1.7" height="7.7"/>
<rect x="114.41" y="392.0" width="1.7" height="8.3"/>
<rect x="116.42" y="392.0" width="1.7" height="8.7"/>
<rect x="118.44" y="392.0" width="1.7" height="8.7"/>
<rect x="120.45" y="392.0" width="1.7" height="8.7"/>
<rect x="122.47" y="392.0" width="1.7" height="8.7"/>
<rect x="124.48" y="392.0" width="1.7" height="8.7"/>
<rect x="126.50" y="392.0" width="1.7" height="8.8"/>
<rect x="128.51" y="392.0" width="1.7" height="9.0"/>
<rect x="130.53" y="392.0" width="1.7" height="9.1"/>
<rect x="132.54" y="392.0" width="1.7" height="9.3"/>
<rect x="134.55" y="392.0" width="1.7" height="9.7"/>
<rect x="136.57" y="392.0" width="1.7" height="10.2"/>
<rect x="138.58" y="392.0" width="1.7" height="10.7"/>
<rect x="140.60" y="392.0" width="1.7" height="11.2"/>
<rect x="142.61" y="392.0" width="1.7" height="11.7"/>
<rect x="144.63" y="392.0" width="1.7" height="12.5"/>
<rect x="146.64" y="392.0" width="1.7" height="13.7"/>
<rect x="148.66" y="392.0" width="1.7" height="15.0"/>
<rect x="150.67" y="392.0" width="1.7" height="15.6"/>
<rect x="152.69" y="392.0" width="1.7" height="15.9"/>
<rect x="154.70" y="392.0" width="1.7" height="16.3"/>
<rect x="156.72" y="392.0" width="1.7" height="16.6"/>
<rect x="158.73" y="392.0" width="1.7" height="16.5"/>
<rect x="160.75" y="392.0" width="1.7" height="16.3"/>
<rect x="162.76" y="392.0" width="1.7" height="16.0"/>
<rect x="164.78" y="392.0" width="1.7" height="15.5"/>
<rect x="166.79" y="392.0" width="1.7" height="14.9"/>
<rect x="168.81" y="392.0" width="1.7" height="14.4"/>
<rect x="170.82" y="392.0" width="1.7" height="13.8"/>
<rect x="172.84" y="392.0" width="1.7" height="13.2"/>
<rect x="174.85" y="392.0" width="1.7" height="12.8"/>
<rect x="176.87" y="392.0" width="1.7" height="12.4"/>
<rect x="178.88" y="392.0" width="1.7" height="12.1"/>
<rect x="180.90" y="392.0" width="1.7" height="11.7"/>
<rect x="182.91" y="392.0" width="1.7" height="11.3"/>
<rect x="184.93" y="392.0" width="1.7" height="10.9"/>
<rect x="186.94" y="392.0" width="1.7" height="10.4"/>
<rect x="188.96" y="392.0" width="1.7" height="9.9"/>
<rect x="190.97" y="392.0" width="1.7" height="9.4"/>
<rect x="192.99" y="392.0" width="1.7" height="8.9"/>
<rect x="195.00" y="392.0" width="1.7" height="8.4"/>
<rect x="197.02" y="392.0" width="1.7" height="8.0"/>
<rect x="199.03" y="392.0" width="1.7" height="8.0"/>
<rect x="201.05" y="392.0" width="1.7" height="8.8"/>
<rect x="203.06" y="392.0" width="1.7" height="9.6"/>
<rect x="205.08" y="392.0" width="1.7" height="10.4"/>
<rect x="207.09" y="392.0" width="1.7" height="11.1"/>
<rect x="209.11" y="392.0" width="1.7" height="11.7"/>
<rect x="211.12" y="392.0" width="1.7" height="12.3"/>
<rect x="213.14" y="392.0" width="1.7" height="12.6"/>
<rect x="215.15" y="392.0" width="1.7" height="12.4"/>
<rect x="217.17" y="392.0" width="1.7" height="12.2"/>
<rect x="219.18" y="392.0" width="1.7" height="12.0"/>
<rect x="221.20" y="392.0" width="1.7" height="11.8"/>
<rect x="223.21" y="392.0" width="1.7" height="11.6"/>
<rect x="225.23" y="392.0" width="1.7" height="11.4"/>
<rect x="227.24" y="392.0" width="1.7" height="11.0"/>
<rect x="229.26" y="392.0" width="1.7" height="10.6"/>
<rect x="231.27" y="392.0" width="1.7" height="10.2"/>
<rect x="233.29" y="392.0" width="1.7" height="9.8"/>
<rect x="235.30" y="392.0" width="1.7" height="9.5"/>
<rect x="237.32" y="392.0" width="1.7" height="9.1"/>
<rect x="239.33" y="392.0" width="1.7" height="8.7"/>
<rect x="241.35" y="392.0" width="1.7" height="8.6"/>
<rect x="243.36" y="392.0" width="1.7" height="8.5"/>
<rect x="245.38" y="392.0" width="1.7" height="8.4"/>
<rect x="247.39" y="392.0" width="1.7" height="8.3"/>
<rect x="249.41" y="392.0" width="1.7" height="8.2"/>
<rect x="251.42" y="392.0" width="1.7" height="8.1"/>
<rect x="253.44" y="392.0" width="1.7" height="7.9"/>
<rect x="255.45" y="392.0" width="1.7" height="7.6"/>
<rect x="257.47" y="392.0" width="1.7" height="7.3"/>
<rect x="259.48" y="392.0" width="1.7" height="7.1"/>
<rect x="261.50" y="392.0" width="1.7" height="6.8"/>
<rect x="263.51" y="392.0" width="1.7" height="6.4"/>
<rect x="265.53" y="392.0" width="1.7" height="5.8"/>
<rect x="267.54" y="392.0" width="1.7" height="5.2"/>
<rect x="269.56" y="392.0" width="1.7" height="4.6"/>
<rect x="271.57" y="392.0" width="1.7" height="4.0"/>
<rect x="273.59" y="392.0" width="1.7" height="3.4"/>
<rect x="275.60" y="392.0" width="1.7" height="2.8"/>
<rect x="277.62" y="392.0" width="1.7" height="2.3"/>
<rect x="279.63" y="392.0" width="1.7" height="1.8"/>
<rect x="281.65" y="392.0" width="1.7" height="1.3"/>
<rect x="283.66" y="392.0" width="1.7" height="0.7"/>
<rect x="285.68" y="391.6" width="1.7" height="0.4"/>
<rect x="287.69" y="390.3" width="1.7" height="1.7"/>
<rect x="289.71" y="389.2" width="1.7" height="2.8"/>
<rect x="291.72" y="388.9" width="1.7" height="3.1"/>
<rect x="293.74" y="388.7" width="1.7" height="3.3"/>
<rect x="295.75" y="388.7" width="1.7" height="3.3"/>
<rect x="297.77" y="388.7" width="1.7" height="3.3"/>
<rect x="299.78" y="388.7" width="1.7" height="3.3"/>
<rect x="301.80" y="388.7" width="1.7" height="3.3"/>
<rect x="303.81" y="388.3" width="1.7" height="3.7"/>
<rect x="305.83" y="387.7" width="1.7" height="4.3"/>
<rect x="307.84" y="387.1" width="1.7" height="4.9"/>
<rect x="309.86" y="386.6" width="1.7" height="5.4"/>
<rect x="311.87" y="386.4" width="1.7" height="5.6"/>
<rect x="313.89" y="386.2" width="1.7" height="5.8"/>
<rect x="315.90" y="386.0" width="1.7" height="6.0"/>
<rect x="317.92" y="386.2" width="1.7" height="5.8"/>
<rect x="319.93" y="386.4" width="1.7" height="5.6"/>
<rect x="321.95" y="386.6" width="1.7" height="5.4"/>
<rect x="323.96" y="387.3" width="1.7" height="4.7"/>
<rect x="325.98" y="388.1" width="1.7" height="3.9"/>
<rect x="327.99" y="388.9" width="1.7" height="3.1"/>
<rect x="330.01" y="389.6" width="1.7" height="2.4"/>
<rect x="332.02" y="390.2" width="1.7" height="1.8"/>
<rect x="334.04" y="390.8" width="1.7" height="1.2"/>
<rect x="336.05" y="391.3" width="1.7" height="0.7"/>
<rect x="338.07" y="391.1" width="1.7" height="0.9"/>
<rect x="340.08" y="390.9" width="1.7" height="1.1"/>
<rect x="342.10" y="390.7" width="1.7" height="1.3"/>
<rect x="344.11" y="389.9" width="1.7" height="2.1"/>
<rect x="346.13" y="388.9" width="1.7" height="3.1"/>
<rect x="348.14" y="388.5" width="1.7" height="3.5"/>
<rect x="350.16" y="388.2" width="1.7" height="3.8"/>
<rect x="352.17" y="387.8" width="1.7" height="4.2"/>
<rect x="354.19" y="387.7" width="1.7" height="4.3"/>
<rect x="356.20" y="387.7" width="1.7" height="4.3"/>
<rect x="358.22" y="387.7" width="1.7" height="4.3"/>
<rect x="360.23" y="388.0" width="1.7" height="4.0"/>
<rect x="362.25" y="388.6" width="1.7" height="3.4"/>
<rect x="364.26" y="389.2" width="1.7" height="2.8"/>
<rect x="366.28" y="389.8" width="1.7" height="2.2"/>
<rect x="368.29" y="390.2" width="1.7" height="1.8"/>
<rect x="370.31" y="390.6" width="1.7" height="1.4"/>
<rect x="372.32" y="391.0" width="1.7" height="1.0"/>
<rect x="374.34" y="391.2" width="1.7" height="0.8"/>
<rect x="376.35" y="391.4" width="1.7" height="0.6"/>
<rect x="378.37" y="391.6" width="1.7" height="0.4"/>
<rect x="380.38" y="391.6" width="1.7" height="0.4"/>
<rect x="382.40" y="391.4" width="1.7" height="0.6"/>
<rect x="384.41" y="391.1" width="1.7" height="0.9"/>
<rect x="386.43" y="390.9" width="1.7" height="1.1"/>
<rect x="388.44" y="390.7" width="1.7" height="1.3"/>
<rect x="390.46" y="390.5" width="1.7" height="1.5"/>
<rect x="392.47" y="390.3" width="1.7" height="1.7"/>
<rect x="394.49" y="390.5" width="1.7" height="1.5"/>
<rect x="396.50" y="390.7" width="1.7" height="1.3"/>
<rect x="398.52" y="390.9" width="1.7" height="1.1"/>
<rect x="400.53" y="391.0" width="1.7" height="1.0"/>
<rect x="402.55" y="391.0" width="1.7" height="1.0"/>
<rect x="404.56" y="391.0" width="1.7" height="1.0"/>
<rect x="406.58" y="390.6" width="1.7" height="1.4"/>
<rect x="408.59" y="389.6" width="1.7" height="2.4"/>
<rect x="410.61" y="388.9" width="1.7" height="3.1"/>
<rect x="412.62" y="388.6" width="1.7" height="3.4"/>
<rect x="414.64" y="388.3" width="1.7" height="3.7"/>
<rect x="416.65" y="388.0" width="1.7" height="4.0"/>
<rect x="418.67" y="387.8" width="1.7" height="4.2"/>
<rect x="420.68" y="387.5" width="1.7" height="4.5"/>
<rect x="422.70" y="387.3" width="1.7" height="4.7"/>
<rect x="424.71" y="387.1" width="1.7" height="4.9"/>
<rect x="426.73" y="387.0" width="1.7" height="5.0"/>
<rect x="428.74" y="387.0" width="1.7" height="5.0"/>
<rect x="430.76" y="387.0" width="1.7" height="5.0"/>
<rect x="432.77" y="387.0" width="1.7" height="5.0"/>
<rect x="434.79" y="387.2" width="1.7" height="4.8"/>
<rect x="436.80" y="387.5" width="1.7" height="4.5"/>
<rect x="438.82" y="387.7" width="1.7" height="4.3"/>
<rect x="440.83" y="387.9" width="1.7" height="4.1"/>
<rect x="442.85" y="387.9" width="1.7" height="4.1"/>
<rect x="444.86" y="387.3" width="1.7" height="4.7"/>
<rect x="446.88" y="386.7" width="1.7" height="5.3"/>
<rect x="448.89" y="386.1" width="1.7" height="5.9"/>
<rect x="450.91" y="385.7" width="1.7" height="6.3"/>
<rect x="452.92" y="385.3" width="1.7" height="6.7"/>
<rect x="454.94" y="384.9" width="1.7" height="7.1"/>
<rect x="456.95" y="384.5" width="1.7" height="7.5"/>
<rect x="458.97" y="384.2" width="1.7" height="7.8"/>
<rect x="460.98" y="383.9" width="1.7" height="8.1"/>
<rect x="463.00" y="383.7" width="1.7" height="8.3"/>
<rect x="465.01" y="383.9" width="1.7" height="8.1"/>
<rect x="467.03" y="384.1" width="1.7" height="7.9"/>
<rect x="469.04" y="384.3" width="1.7" height="7.7"/>
<rect x="471.06" y="384.6" width="1.7" height="7.4"/>
<rect x="473.07" y="384.9" width="1.7" height="7.1"/>
<rect x="475.09" y="385.2" width="1.7" height="6.8"/>
<rect x="477.10" y="385.4" width="1.7" height="6.6"/>
<rect x="479.12" y="385.6" width="1.7" height="6.4"/>
<rect x="481.13" y="385.9" width="1.7" height="6.1"/>
<rect x="483.15" y="386.1" width="1.7" height="5.9"/>
<rect x="485.16" y="386.4" width="1.7" height="5.6"/>
<rect x="487.18" y="386.7" width="1.7" height="5.3"/>
<rect x="489.19" y="387.0" width="1.7" height="5.0"/>
<rect x="491.21" y="387.2" width="1.7" height="4.8"/>
<rect x="493.22" y="387.4" width="1.7" height="4.6"/>
<rect x="495.24" y="387.6" width="1.7" height="4.4"/>
<rect x="497.25" y="387.8" width="1.7" height="4.2"/>
<rect x="499.27" y="388.0" width="1.7" height="4.0"/>
<rect x="501.28" y="388.2" width="1.7" height="3.8"/>
<rect x="503.30" y="388.4" width="1.7" height="3.6"/>
<rect x="505.31" y="388.7" width="1.7" height="3.3"/>
<rect x="507.33" y="389.0" width="1.7" height="3.0"/>
<rect x="509.34" y="389.3" width="1.7" height="2.7"/>
<rect x="511.36" y="389.4" width="1.7" height="2.6"/>
<rect x="513.37" y="389.5" width="1.7" height="2.5"/>
<rect x="515.39" y="389.6" width="1.7" height="2.4"/>
<rect x="517.40" y="389.8" width="1.7" height="2.2"/>
<rect x="519.42" y="390.0" width="1.7" height="2.0"/>
<rect x="521.43" y="390.3" width="1.7" height="1.7"/>
<rect x="523.45" y="390.3" width="1.7" height="1.7"/>
<rect x="525.46" y="390.2" width="1.7" height="1.8"/>
<rect x="527.48" y="390.1" width="1.7" height="1.9"/>
<rect x="529.49" y="389.7" width="1.7" height="2.3"/>
<rect x="531.51" y="388.1" width="1.7" height="3.9"/>
<rect x="533.52" y="385.9" width="1.7" height="6.1"/>
<rect x="535.54" y="384.1" width="1.7" height="7.9"/>
<rect x="537.55" y="383.1" width="1.7" height="8.9"/>
<rect x="539.57" y="382.1" width="1.7" height="9.9"/>
<rect x="541.58" y="380.7" width="1.7" height="11.3"/>
<rect x="543.60" y="379.8" width="1.7" height="12.2"/>
<rect x="545.61" y="379.4" width="1.7" height="12.6"/>
<rect x="547.63" y="379.2" width="1.7" height="12.8"/>
<rect x="549.64" y="378.9" width="1.7" height="13.1"/>
<rect x="551.66" y="378.7" width="1.7" height="13.3"/>
<rect x="553.67" y="378.5" width="1.7" height="13.5"/>
<rect x="555.69" y="378.2" width="1.7" height="13.8"/>
<rect x="557.70" y="378.0" width="1.7" height="14.0"/>
<rect x="559.72" y="378.2" width="1.7" height="13.8"/>
<rect x="561.73" y="378.3" width="1.7" height="13.7"/>
<rect x="563.75" y="378.6" width="1.7" height="13.4"/>
<rect x="565.76" y="378.8" width="1.7" height="13.2"/>
<rect x="567.78" y="379.1" width="1.7" height="12.9"/>
<rect x="569.79" y="379.3" width="1.7" height="12.7"/>
<rect x="571.81" y="379.5" width="1.7" height="12.5"/>
<rect x="573.82" y="379.6" width="1.7" height="12.4"/>
<rect x="575.84" y="379.7" width="1.7" height="12.3"/>
<rect x="577.85" y="379.6" width="1.7" height="12.4"/>
<rect x="579.87" y="379.5" width="1.7" height="12.5"/>
<rect x="581.88" y="379.4" width="1.7" height="12.6"/>
<rect x="583.90" y="379.3" width="1.7" height="12.7"/>
</g>
<path d="M0,393.5 L20,391.3 L33,390 L48,390 L55,390.5 L60,391.5 L63,392 L70,392.7 L83,396 L96.7,396.7 L110,397.3 L126,399.3 L137,400.7 L150,403.3 L163,407.3 L164,408 L170,407.3 L173.3,405.3 L186.7,402 L198,400 L206.7,400.7 L220,404 L240,401.3 L260,399.3 L263.3,398 L276.7,395.3 L290,393.3 L295.3,392 L303.3,390 L316.7,387.3 L324.7,386.4 L332.7,388 L342,390 L350,389.3 L353.3,388.3 L366.7,388.7 L380,391 L393.3,391.3 L406.7,391.3 L420,389 L430.7,387.3 L443.3,387.7 L456.7,385.3 L467.3,384.3 L483.3,385.3 L496.7,387 L510,388 L523.3,389.6 L531,389.6 L536.7,388 L543.3,385.3 L550,381.6 L556.7,379.7 L563.3,378.7 L574,378.7 L583.3,380" stroke="#a61e1e" stroke-width="0.9" fill="none"/>
<rect x="0" y="410" width="750" height="2" fill="#a3acb8"/>
<path d="M0 417.5 H750" stroke="#7d8795" stroke-width="1" stroke-dasharray="1.5 1.5" fill="none"/>
<path d="M0 424.5 H750" stroke="#7d8795" stroke-width="1" stroke-dasharray="1.5 1.5" fill="none"/>
<path d="M0,420.3 L6.7,420.7 L13.3,419.7 L20,420 L26.7,418.7 L33.3,420.7 L40,420 L45.3,419.3 L53.3,420.7 L60,421.3 L62.7,424 L66.7,424.7 L73.3,423.3 L80,423.3 L86.7,422 L93.3,422.7 L100,424 L106.7,422.4 L113.3,424.3 L117.3,425.3 L120,424.7 L126.7,423.7 L133.3,424 L136,425.6 L146.7,426 L153.3,426.7 L160,426.7 L162,423.7 L173.3,423.7 L180,424.7 L186.7,422.7 L193.3,423.3 L200,425.3 L204,426 L213.3,424.3 L226.7,424 L233.3,425 L237.3,422.7 L244,422.7 L253.3,424.7 L260,421.3 L266.7,421.7 L273.3,421 L280,422.7 L286.7,418 L293.3,418 L300,419.3 L310,417.3 L313.3,418.9 L320,419.7 L333.3,421.6 L340,420.3 L349.3,418 L356,418.4 L364,421.3 L373.3,421.3 L384,419.3 L393.3,420 L400,421.5 L406.7,418.7 L426.7,417.3 L440,420 L446.7,417.3 L457.3,416.7 L466.7,417.3 L480,419.3 L486.7,418.7 L500,420.2 L513.3,421 L521.3,421.3 L530.7,417.3 L537.3,414.7 L546.7,416.7 L557.3,416.3 L566.7,417.6 L573.3,416.3 L584,415.3" stroke="#1f62b8" stroke-width="1.1" fill="none"/>
<!-- arrows -->
<path d="M657 50.7 L670.7 18.8" stroke="#fff" stroke-width="1.7" fill="none"/>
<path d="M670.7 18.8 L665.4 24.6 L670.1 26.7 Z" fill="#fff" stroke="#fff" stroke-width="1"/>
<path d="M602 62 L616.5 95.7 L634.5 65.5" stroke="#e8161e" stroke-width="1.6" fill="none" stroke-linejoin="miter"/>
<path d="M634.5 65.5 L628.4 70.1 L633.6 72.4 Z" fill="#e8161e" stroke="#e8161e" stroke-width="1"/>
<path d="M650.4 114.1 L660.8 138.1" stroke="#e8161e" stroke-width="1.6" fill="none"/>
<path d="M660.8 138.1 L656.7 134.9 L661.3 131.6 Z" fill="#e8161e" stroke="#e8161e" stroke-width="1"/>
<rect x="674.5" y="115.5" width="2" height="2" fill="#000"/>
</svg>
<div class="t" style="left:253px;top:6.5px;font-size:12px;transform:scaleX(1.1);transform-origin:0 0;-webkit-text-stroke:0.25px #fff;">USDJPY</div>
<div class="t" style="left:251px;top:22px;font-size:12px;transform:scaleX(1.11);transform-origin:0 0;-webkit-text-stroke:0.25px #fff;">H1 Chart</div>
<div class="t" style="left:631px;top:3px;font-size:11px;color:#1e90f0;transform:scaleX(1.08);transform-origin:0 0;-webkit-text-stroke:0.3px #1e90f0;">153.00</div>
<div class="t" style="left:607px;top:42px;font-size:11px;color:#1e90f0;transform:scaleX(1.08);transform-origin:0 0;-webkit-text-stroke:0.3px #1e90f0;">151.95</div>
<div class="t" style="left:603px;top:105px;font-size:11px;transform:scaleX(1.08);transform-origin:0 0;-webkit-text-stroke:0.3px #fff;">150.70</div>
<div class="t" style="left:609px;top:145px;font-size:11px;transform:scaleX(1.08);transform-origin:0 0;-webkit-text-stroke:0.3px #fff;">149.95</div>
</body></html>
